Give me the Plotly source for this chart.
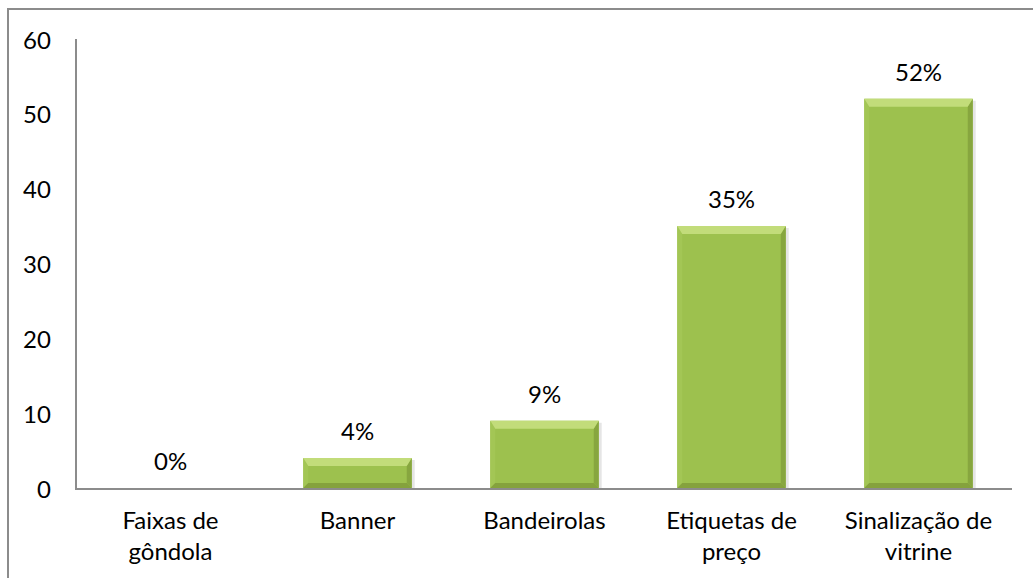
import plotly.graph_objects as go

# Survey results: share of respondents per point-of-sale material
categories = ["Faixas de<br>gôndola", "Banner", "Bandeirolas", "Etiquetas de<br>preço", "Sinalização de<br>vitrine"]
values = [0, 4, 9, 35, 52]
y_ticks = [0, 10, 20, 30, 40, 50, 60]

W, H = 1033, 578
M_L, M_R, M_T, M_B = 77, 21, 39, 90
plot_w = W - M_L - M_R
plot_h = H - M_T - M_B
y_max = 60

bar_w = 0.58
FONT = dict(family="Lato, Carlito, Calibri, sans-serif", size=24, color="#000000")

BODY = "#9DC14E"
TOP = "#C2DC7A"
LEFT = "#A3C655"
RIGHT = "#87A63F"
BOTTOM = "#85A23D"

x_idx = list(range(len(categories)))

fig = go.Figure()
fig.add_trace(go.Bar(
    x=x_idx, y=values, width=bar_w,
    marker=dict(color=BODY, line=dict(width=0)),
    hoverinfo="skip",
))

# bevel sizes in data units
px_x = len(categories) / plot_w
px_y = y_max / plot_h
bx = 5 * px_x
by_top = 8 * px_y
by_bot = 5 * px_y

shapes = []
for i, v in zip(x_idx, values):
    if v <= 0:
        continue
    x0, x1 = i - bar_w / 2, i + bar_w / 2
    t = min(by_top, v / 3)
    b = min(by_bot, v / 4)
    # soft drop shadow
    shapes.append(dict(type="rect", xref="x", yref="y",
                       x0=x0 + 2 * px_x, x1=x1 + 3 * px_x, y0=0, y1=v - 2 * px_y,
                       fillcolor="rgba(0,0,0,0.10)", line=dict(width=0), layer="below"))
    # left face
    shapes.append(dict(type="path", xref="x", yref="y",
                       path=f"M{x0},{0} L{x0 + bx},{b} L{x0 + bx},{v - t} L{x0},{v} Z",
                       fillcolor=LEFT, line=dict(width=0)))
    # right face
    shapes.append(dict(type="path", xref="x", yref="y",
                       path=f"M{x1},{0} L{x1 - bx},{b} L{x1 - bx},{v - t} L{x1},{v} Z",
                       fillcolor=RIGHT, line=dict(width=0)))
    # bottom face
    shapes.append(dict(type="path", xref="x", yref="y",
                       path=f"M{x0},{0} L{x1},{0} L{x1 - bx},{b} L{x0 + bx},{b} Z",
                       fillcolor=BOTTOM, line=dict(width=0)))
    # top face
    shapes.append(dict(type="path", xref="x", yref="y",
                       path=f"M{x0},{v} L{x1},{v} L{x1 - bx},{v - t} L{x0 + bx},{v - t} Z",
                       fillcolor=TOP, line=dict(width=0)))

# chart frame
shapes.append(dict(type="rect", xref="paper", yref="paper",
                   x0=(8 - M_L) / plot_w, x1=(W + 20 - M_L) / plot_w,
                   y0=-(M_B + 20) / plot_h, y1=(plot_h + M_T - 9) / plot_h,
                   line=dict(color="#8C8C8C", width=2), fillcolor="rgba(0,0,0,0)"))

# value labels above the bars
annotations = [
    dict(x=i, y=v, xref="x", yref="y", text=f"{v}%", showarrow=False,
         yanchor="bottom", yshift=11, font=FONT)
    for i, v in zip(x_idx, values)
]
# y-axis tick labels, right-aligned at a fixed gap from the axis line
annotations += [
    dict(x=0, y=t, xref="paper", yref="y", text=str(t), showarrow=False,
         xanchor="right", yanchor="middle", xshift=-24, font=FONT)
    for t in y_ticks
]

fig.update_layout(
    width=W, height=H,
    margin=dict(l=M_L, r=M_R, t=M_T, b=M_B, pad=0),
    paper_bgcolor="white", plot_bgcolor="white",
    showlegend=False,
    font=FONT,
    shapes=shapes,
    annotations=annotations,
    xaxis=dict(
        tickmode="array", tickvals=x_idx, ticktext=categories,
        range=[-0.5, len(categories) - 0.5],
        showgrid=False, zeroline=False, ticks="",
        showline=True, linecolor="#8C8C8C", linewidth=2,
        ticklabelstandoff=10, tickfont=FONT, fixedrange=True,
    ),
    yaxis=dict(
        tickmode="array", tickvals=y_ticks, showticklabels=False,
        range=[0, y_max],
        showgrid=False, zeroline=False, ticks="",
        showline=True, linecolor="#8C8C8C", linewidth=2,
        fixedrange=True,
    ),
)

fig.write_html("out.html", config={"displayModeBar": False})
